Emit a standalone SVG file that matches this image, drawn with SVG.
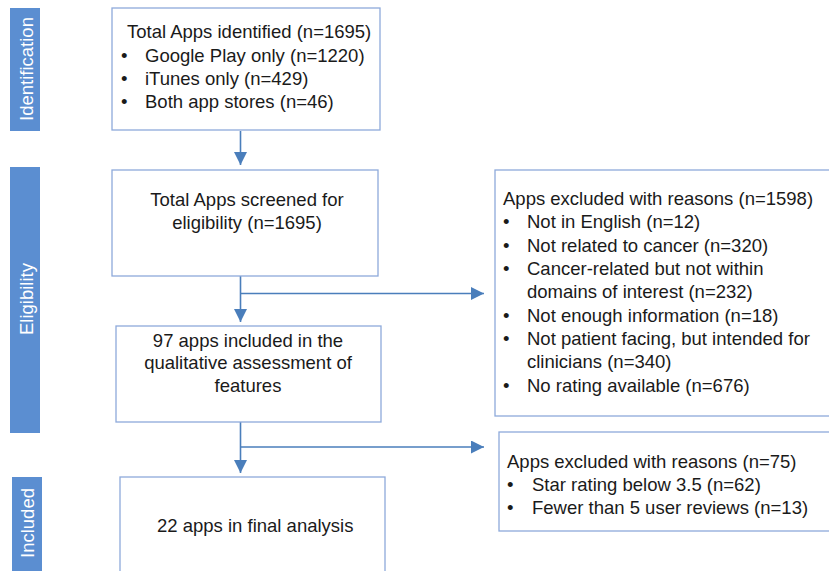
<svg xmlns="http://www.w3.org/2000/svg" width="829" height="571" viewBox="0 0 829 571">
<defs>
<style>
.box{fill:#fff;stroke:#8eaadb;stroke-width:1.3}
.bar{fill:#5b8ed1}
.t{font-family:"Liberation Sans",Arial,sans-serif;font-size:18.5px;fill:#1a1a1a}
.bt{font-family:"Liberation Sans",Arial,sans-serif;font-size:18.5px;fill:#fff;text-anchor:middle}
.c{text-anchor:middle}
.ln{fill:none;stroke:#4a7ebb;stroke-width:1.6}
</style>
<marker id="ah" markerUnits="userSpaceOnUse" markerWidth="14" markerHeight="14" refX="13" refY="6.5" orient="auto">
<path d="M0,0 L13,6.5 L0,13 Z" fill="#4a7ebb"/>
</marker>
</defs>
<rect width="829" height="571" fill="#fff"/>

<g id="bar-identification">
<rect class="bar" x="10" y="8" width="30" height="123"/>
<text class="bt" transform="translate(32.5,69) rotate(-90)">Identification</text>
</g>
<g id="bar-eligibility">
<rect class="bar" x="10" y="167" width="30" height="266"/>
<text class="bt" transform="translate(32.5,299) rotate(-90)">Eligibility</text>
</g>
<g id="bar-included">
<rect class="bar" x="12" y="477" width="30" height="120"/>
<text class="bt" transform="translate(34,523) rotate(-90)">Included</text>
</g>

<g id="connectors">
<line class="ln" x1="240.5" y1="131" x2="240.5" y2="165" marker-end="url(#ah)"/>
<line class="ln" x1="240.5" y1="276" x2="240.5" y2="322" marker-end="url(#ah)"/>
<line class="ln" x1="240.5" y1="293.5" x2="484" y2="293.5" marker-end="url(#ah)"/>
<line class="ln" x1="240.5" y1="422" x2="240.5" y2="473" marker-end="url(#ah)"/>
<line class="ln" x1="240.5" y1="447" x2="484" y2="447" marker-end="url(#ah)"/>
</g>

<g id="identified">
<rect class="box" x="112" y="8" width="268" height="122"/>
<text class="t" x="127" y="38">Total Apps identified (n=1695)</text>
<text class="t" x="121" y="62">•</text><text class="t" x="145" y="62">Google Play only (n=1220)</text>
<text class="t" x="121" y="85">•</text><text class="t" x="145" y="85">iTunes only (n=429)</text>
<text class="t" x="121" y="108">•</text><text class="t" x="145" y="108">Both app stores (n=46)</text>
</g>

<g id="screened">
<rect class="box" x="112" y="170" width="266" height="106"/>
<text class="t c" x="247" y="206">Total Apps screened for</text>
<text class="t c" x="247" y="229">eligibility (n=1695)</text>
</g>

<g id="qualitative">
<rect class="box" x="116" y="326" width="265" height="96"/>
<text class="t c" x="248" y="347">97 apps included in the</text>
<text class="t c" x="248" y="369">qualitative assessment of</text>
<text class="t c" x="248" y="392">features</text>
</g>

<g id="final">
<rect class="box" x="120" y="477" width="265" height="120"/>
<text class="t" x="157" y="532">22 apps in final analysis</text>
</g>

<g id="excluded1">
<rect class="box" x="495" y="170" width="360" height="246"/>
<text class="t" x="503" y="205">Apps excluded with reasons (n=1598)</text>
<text class="t" x="503" y="228">•</text><text class="t" x="527" y="228">Not in English (n=12)</text>
<text class="t" x="503" y="251.5">•</text><text class="t" x="527" y="251.5">Not related to cancer (n=320)</text>
<text class="t" x="503" y="275">•</text><text class="t" x="527" y="275">Cancer-related but not within</text>
<text class="t" x="527" y="298">domains of interest (n=232)</text>
<text class="t" x="503" y="321.5">•</text><text class="t" x="527" y="321.5">Not enough information (n=18)</text>
<text class="t" x="503" y="345">•</text><text class="t" x="527" y="345">Not patient facing, but intended for</text>
<text class="t" x="527" y="368">clinicians (n=340)</text>
<text class="t" x="503" y="391.5">•</text><text class="t" x="527" y="391.5">No rating available (n=676)</text>
</g>

<g id="excluded2">
<rect class="box" x="499" y="432" width="360" height="99"/>
<text class="t" x="507" y="468">Apps excluded with reasons (n=75)</text>
<text class="t" x="507" y="491">•</text><text class="t" x="532" y="491">Star rating below 3.5 (n=62)</text>
<text class="t" x="507" y="514">•</text><text class="t" x="532" y="514">Fewer than 5 user reviews (n=13)</text>
</g>
</svg>
